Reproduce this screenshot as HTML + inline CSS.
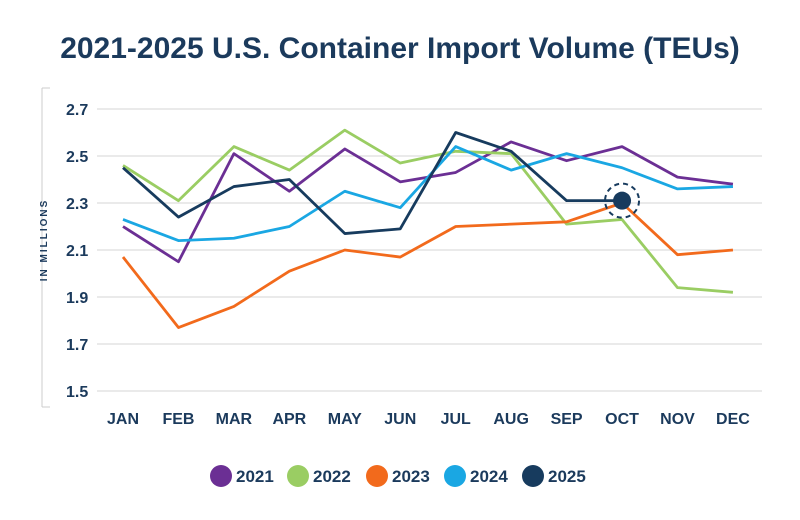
<!DOCTYPE html>
<html><head><meta charset="utf-8">
<style>
body{margin:0;background:#fff;font-family:"Liberation Sans",sans-serif;}
svg{display:block}
</style></head>
<body>
<svg id="chart" width="800" height="520">
<text x="400" y="58" text-anchor="middle" font-size="30" font-weight="bold" fill="#1b3a5c">2021-2025 U.S. Container Import Volume (TEUs)</text>
<g id="axes"></g>
<g id="lines"></g>
<g id="legend"></g>
</svg>
<script>
const months=["JAN","FEB","MAR","APR","MAY","JUN","JUL","AUG","SEP","OCT","NOV","DEC"];
const yTicks=[1.5,1.7,1.9,2.1,2.3,2.5,2.7];
const years=["2021","2022","2023","2024","2025"];
const v2021=[2.20,2.05,2.51,2.35,2.53,2.39,2.43,2.56,2.48,2.54,2.41,2.38];
const v2022=[2.46,2.31,2.54,2.44,2.61,2.47,2.52,2.51,2.21,2.23,1.94,1.92];
const v2023=[2.07,1.77,1.86,2.01,2.10,2.07,2.20,2.21,2.22,2.30,2.08,2.10];
const v2024=[2.23,2.14,2.15,2.20,2.35,2.28,2.54,2.44,2.51,2.45,2.36,2.37];
const v2025=[2.45,2.24,2.37,2.40,2.17,2.19,2.60,2.52,2.31,2.31];
const colors=["#6b2f94","#9acd63","#f26a1c","#1aa7e3","#173b5e"];
const NS="http://www.w3.org/2000/svg";
const x=i=>123+i*55.45;
const y=v=>391-(v-1.5)/0.2*47;
function mk(t,a,p){const e=document.createElementNS(NS,t);for(const k in a)e.setAttribute(k,a[k]);p.appendChild(e);return e;}
const ax=document.getElementById('axes');
const la=mk('line',{x1:42,y1:88,x2:42,y2:407,stroke:'#ccc','stroke-width':1},ax);


yTicks.forEach(t=>{
 const g=mk('line',{x1:97,x2:762,y1:y(t),y2:y(t),stroke:'#d4d4d4','stroke-width':1},ax);
 
 
 const tl=mk('text',{x:66,y:y(t)+6,'text-anchor':'start','font-size':16,'font-weight':'bold',fill:'#1b3a5c'},ax);
 tl.textContent=t.toFixed(1);
 
 
});
[88,407].forEach(yy=>{const tk=mk('line',{x1:42,x2:50,y1:yy,y2:yy,stroke:'#ccc'},ax);
 
 });
const yt=mk('text',{x:0,y:0,transform:'translate(47,240) rotate(-90)','text-anchor':'middle','font-size':10,'font-weight':'bold','letter-spacing':'2',fill:'#1b3a5c'},ax);
yt.textContent='IN MILLIONS';


months.forEach((m,i)=>{
 const t=mk('text',{x:x(i),y:424,'text-anchor':'middle','font-size':16,'font-weight':'bold',fill:'#1b3a5c'},ax);
 t.textContent=m;
 
 
});
const series=[v2021,v2022,v2023,v2024,v2025];
const lg=document.getElementById('lines');
series.forEach((s,k)=>{
 const p=mk('polyline',{points:s.map((v,i)=>x(i)+','+y(v)).join(' '),fill:'none',stroke:colors[k],'stroke-width':2.8,'stroke-linejoin':'round'},lg);
 
 
});
const li=v2025.length-1;
const c1=mk('circle',{cx:x(li),cy:y(v2025[li]),r:17,fill:'none',stroke:'#173b5e','stroke-width':2,'stroke-dasharray':'5 4'},lg);


const c2=mk('circle',{cx:x(li),cy:y(v2025[li]),r:9,fill:'#173b5e'},lg);


const lgd=document.getElementById('legend');
const lx=[221,298,377,455,533];
years.forEach((yr,k)=>{
 const g=mk('g',{},lgd);
 
 
 mk('circle',{cx:lx[k],cy:476,r:11,fill:colors[k]},g);
 const t=mk('text',{x:lx[k]+15,y:482,'font-size':17,'font-weight':'bold',fill:'#1b3a5c'},g);
 t.textContent=yr;
});
</script>
</body></html>
